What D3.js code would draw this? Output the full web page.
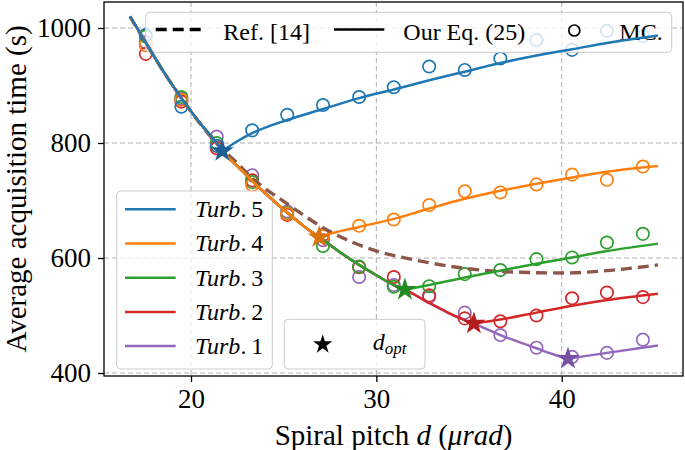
<!DOCTYPE html>
<html><head><meta charset="utf-8">
<script src="https://cdn.jsdelivr.net/npm/d3@7"></script>
<style>body{margin:0;background:#fff} svg{display:block}</style>
</head><body>
<svg id="c" width="685" height="450"></svg>
<script>
// ---------- data ----------
const xTicks = [20, 30, 40];
const yTicks = [400, 600, 800, 1000];
const seriesNames = ["5", "4", "3", "2", "1"];
const seriesColors = ["#1f77b4", "#ff7f0e", "#2ca02c", "#d62728", "#9467bd"];
const starColors = ["#1c5f92", "#d9720f", "#1f8a1f", "#b31d1d", "#7651a6"];

// Monte Carlo points
const mcD = [17.56, 19.48, 21.39, 23.30, 25.19, 27.12, 29.07, 30.94, 32.85, 34.77, 36.69, 38.64, 40.56, 42.44, 44.38];
const mcTurb5 = [988, 863, 795, 822, 849, 866, 880, 897, 933, 927, 947, 979, 962, 995, 986];
const mcTurb4 = [970, 875, 795, 727, 677, 638, 656, 667, 692, 716, 714, 728, 745, 736, 759];
const mcTurb3 = [985, 880, 800, 732, 678, 621, 585, 550, 551, 572, 579, 598, 601, 627, 642];
const mcTurb2 = [955, 872, 791, 735, 675, 640, 584, 567, 535, 495, 490, 500, 530, 540, 532];
const mcTurb1 = [975, 877, 811, 744, 681, 631, 567, 553, 532, 505, 466, 444, 428, 435, 458];

// Our Eq. (25): common descending branch
const descD = [16.71, 17.56, 18.5, 19.48, 20.5, 21.39, 21.69, 22.5, 23.3, 24.2, 25.19, 26.1, 26.92, 28.0, 29.07, 30.0, 30.94, 31.54, 32.85, 33.8, 34.77, 35.26, 36.69, 37.6, 38.64, 39.5, 40.34];
const descT = [1020, 975, 925, 878, 834, 800, 786, 760, 734, 707, 679, 655, 636, 611, 588, 570, 553, 545, 522, 506, 492, 486, 466, 455, 443, 433, 425];
// rising branches
const rise5D = [22.5, 23.3, 25.19, 27.12, 29.07, 30.94, 32.85, 34.77, 36.69, 38.64, 40.56, 42.44, 45.19];
const rise5T = [803, 817, 840, 859, 878, 893, 909, 924, 939, 952, 963, 974, 987];
const rise4D = [27.5, 29.07, 30.94, 32.85, 34.77, 36.69, 38.64, 40.56, 42.44, 45.19];
const rise4T = [642, 654, 668, 686, 703, 717, 729, 740, 750, 760];
const rise3D = [32.85, 34.77, 36.69, 38.64, 40.56, 42.44, 45.19];
const rise3T = [553, 566, 578, 590, 601, 612, 625];
const rise2D = [36.69, 38.64, 40.56, 42.44, 45.19];
const rise2T = [493, 505, 517, 527, 538];
const rise1D = [42.44, 45.19];
const rise1T = [435, 448];

// optimal pitch stars
const starD = [21.69, 26.92, 31.54, 35.26, 40.34];
const starT = [786, 636, 545, 486, 425];

// Ref. [14]
const refD = [16.71, 19.48, 21.69, 22.4, 23.2, 25.16, 27.5, 29.83, 32.17, 34.8, 37.0, 40.07, 42.77, 45.19];
const refT = [1020, 878, 789, 768, 742, 695, 646, 614, 596, 582, 576, 574, 579, 588];

// ---------- chart ----------
const svg = d3.select("#c");
const L = 104, R = 683, T = 2, B = 376;
const x = d3.scaleLinear().domain([15.306, 46.544]).range([L, R]);
const y = d3.scaleLinear().domain([394.8, 1045.2]).range([B, T]);
const serif = "'Liberation Serif','Times New Roman',serif";

// grid
const g = svg.append("g");
g.selectAll(".gx").data(xTicks).join("line")
  .attr("x1", d => x(d)).attr("x2", d => x(d)).attr("y1", T).attr("y2", B)
  .attr("stroke", "#b0b0b0").attr("stroke-width", 1).attr("stroke-dasharray", "5,3");
g.selectAll(".gy").data(yTicks).join("line")
  .attr("x1", L).attr("x2", R).attr("y1", d => y(d)).attr("y2", d => y(d))
  .attr("stroke", "#b0b0b0").attr("stroke-width", 1).attr("stroke-dasharray", "5,3");

// axes
const ax = svg.append("g").attr("transform", `translate(0,${B})`)
  .call(d3.axisBottom(x).tickValues(xTicks).tickSize(6).tickPadding(7).tickFormat(d3.format("d")));
const ay = svg.append("g").attr("transform", `translate(${L},0)`)
  .call(d3.axisLeft(y).tickValues(yTicks).tickSize(6).tickPadding(7).tickFormat(d3.format("d")));
[ax, ay].forEach(a => {
  a.select(".domain").remove();
  a.selectAll("line").attr("stroke", "#000").attr("stroke-width", 1.3);
  a.selectAll("text").attr("font-family", serif).attr("font-size", 27).attr("fill", "#000");
});

// MC circles
const mcAll = [mcTurb5, mcTurb4, mcTurb3, mcTurb2, mcTurb1];
const cg = svg.append("g");
[4, 3, 2, 1, 0].forEach(i => {
  cg.selectAll(null).data(mcD.map((d, k) => [d, mcAll[i][k]])).join("circle")
    .attr("cx", d => x(d[0])).attr("cy", d => y(d[1])).attr("r", 6.2)
    .attr("fill", "none").attr("stroke", seriesColors[i]).attr("stroke-width", 1.7);
});

// legend boxes
function box(x0, y0, w, h) {
  svg.append("rect").attr("x", x0).attr("y", y0).attr("width", w).attr("height", h)
    .attr("rx", 4).attr("fill", "rgba(255,255,255,0.8)").attr("stroke", "#cccccc").attr("stroke-width", 1);
}
// top legend
box(145.7, 12.3, 526, 40);
const ly = 29.5;
svg.append("line").attr("x1", 155.7).attr("x2", 203.3).attr("y1", ly).attr("y2", ly)
  .attr("stroke", "#000").attr("stroke-width", 3.3).attr("stroke-dasharray", "11,6");
svg.append("text").attr("x", 223.3).attr("y", 39.5).attr("font-family", serif).attr("font-size", 24).text("Ref. [14]");
svg.append("line").attr("x1", 334).attr("x2", 384.3).attr("y1", ly).attr("y2", ly)
  .attr("stroke", "#000").attr("stroke-width", 2.5);
svg.append("text").attr("x", 403.3).attr("y", 39.5).attr("font-family", serif).attr("font-size", 24).text("Our Eq. (25)");
svg.append("circle").attr("cx", 574.3).attr("cy", 30.5).attr("r", 5.5).attr("fill", "none")
  .attr("stroke", "#000").attr("stroke-width", 1.7);
svg.append("text").attr("x", 619.3).attr("y", 39.5).attr("font-family", serif).attr("font-size", 24).text("MC.");

// turbulence legend
box(116.7, 191, 155.6, 178);
seriesNames.forEach((n, i) => {
  const yy = 209.3 + i * 34.2;
  svg.append("line").attr("x1", 125).attr("x2", 175.7).attr("y1", yy).attr("y2", yy)
    .attr("stroke", seriesColors[i]).attr("stroke-width", 2.5);
  const t = svg.append("text").attr("x", 195).attr("y", yy + 7.8).attr("font-family", serif).attr("font-size", 24);
  t.append("tspan").attr("font-style", "italic").text("Turb");
  t.append("tspan").text(".\u2009" + n);
});

// d_opt legend
box(284.3, 319.3, 140.7, 49.7);
svg.append("path").attr("d", d3.symbol().type(d3.symbolStar).size(115)())
  .attr("transform", "translate(322.7,344.5)").attr("fill", "#000");
const dt = svg.append("text").attr("x", 372.7).attr("y", 350).attr("font-family", serif).attr("font-size", 24);
dt.append("tspan").attr("font-style", "italic").text("d");
dt.append("tspan").attr("font-style", "italic").attr("font-size", 17).attr("dy", 4).text("opt");

// Ref [14] dashed line
const line = d3.line().x(d => x(d[0])).y(d => y(d[1])).curve(d3.curveMonotoneX);
svg.append("path").attr("d", line(refD.map((d, k) => [d, refT[k]])))
  .attr("fill", "none").attr("stroke", "#8c564b").attr("stroke-width", 3.4).attr("stroke-dasharray", "11,6");

// Our Eq.(25) lines: descending branch up to star, then rising branch
const riseD = [rise5D, rise4D, rise3D, rise2D, rise1D];
const riseT = [rise5T, rise4T, rise3T, rise2T, rise1T];
[4, 3, 2, 1, 0].forEach(i => {
  const down = descD.map((d, k) => [d, descT[k]]).filter(p => p[0] <= starD[i] + 1e-9);
  const up = [[starD[i], starT[i]]].concat(riseD[i].map((d, k) => [d, riseT[i][k]]));
  [down, up].forEach(pts => {
    svg.append("path").attr("d", line(pts)).attr("fill", "none")
      .attr("stroke", seriesColors[i]).attr("stroke-width", 2.5).attr("stroke-linejoin", "round");
  });
});

// stars
starD.forEach((d, i) => {
  svg.append("path").attr("d", d3.symbol().type(d3.symbolStar).size(165)())
    .attr("transform", `translate(${x(d)},${y(starT[i])})`).attr("fill", starColors[i]);
});

// frame
svg.append("rect").attr("x", L).attr("y", T).attr("width", R - L).attr("height", B - T)
  .attr("fill", "none").attr("stroke", "#000").attr("stroke-width", 1.3);

// axis labels
const xl = svg.append("text").attr("x", (L + R) / 2).attr("y", 445).attr("text-anchor", "middle")
  .attr("font-family", serif).attr("font-size", 29);
xl.append("tspan").text("Spiral pitch ");
xl.append("tspan").attr("font-style", "italic").text("d");
xl.append("tspan").text(" (");
xl.append("tspan").attr("font-style", "italic").text("μrad");
xl.append("tspan").text(")");
svg.append("text").attr("transform", `translate(26,${(T + B) / 2}) rotate(-90)`).attr("text-anchor", "middle")
  .attr("font-family", serif).attr("font-size", 29).text("Average acquisition time (s)");
</script>
</body></html>
